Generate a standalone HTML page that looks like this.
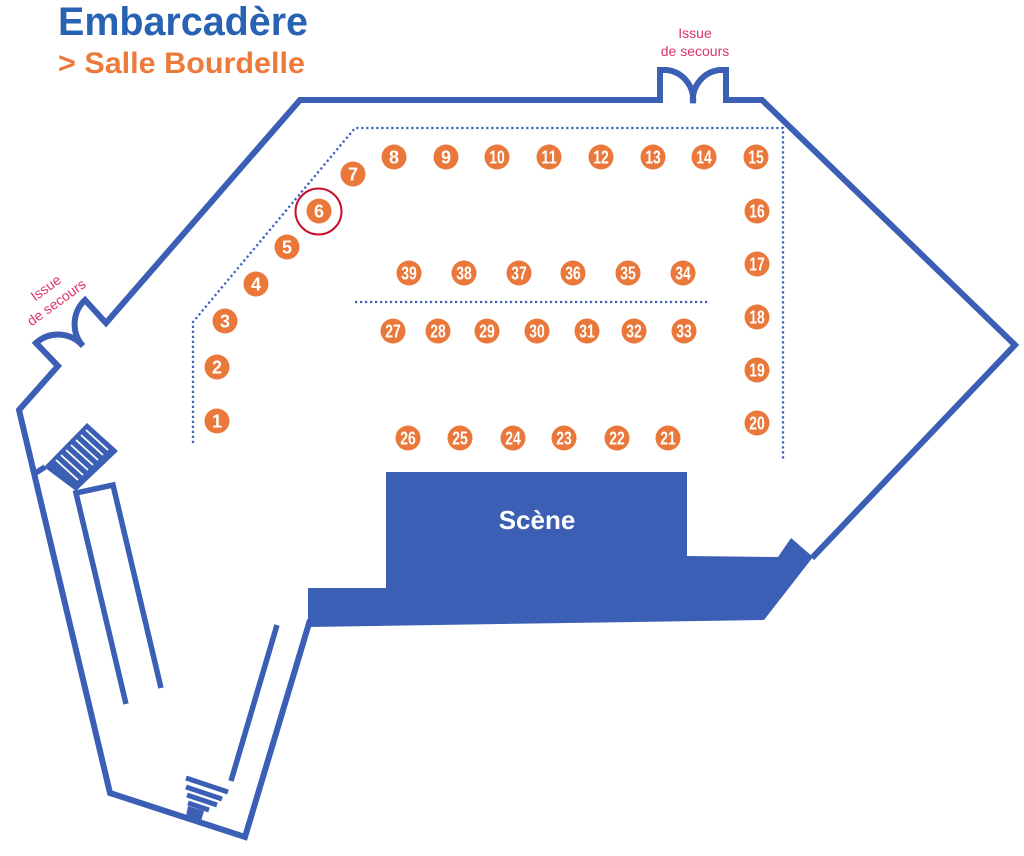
<!DOCTYPE html>
<html>
<head>
<meta charset="utf-8">
<style>
  html,body{margin:0;padding:0;background:#fff;}
  svg{display:block;}
  .seat circle{fill:#e9783a;}
  .seat text{fill:#fff;font-family:"Liberation Sans",sans-serif;font-weight:bold;font-size:18px;text-anchor:middle;}
</style>
</head>
<body>
<svg width="1024" height="856" viewBox="0 0 1024 856" xmlns="http://www.w3.org/2000/svg">
  <rect width="1024" height="856" fill="#fff"/>

  <!-- Title -->
  <text x="58" y="35" font-family="Liberation Sans, sans-serif" font-weight="bold" font-size="40" fill="#2862b3" textLength="250" lengthAdjust="spacingAndGlyphs">Embarcadère</text>
  <text x="58" y="73" font-family="Liberation Sans, sans-serif" font-weight="bold" font-size="30" fill="#ec7b3b" textLength="247" lengthAdjust="spacingAndGlyphs">&gt; Salle Bourdelle</text>

  <!-- Emergency exit labels -->
  <g font-family="Liberation Sans, sans-serif" font-size="14" fill="#dc356b" text-anchor="middle">
    <text x="695" y="38">Issue</text>
    <text x="695" y="56">de secours</text>
    <g transform="translate(51,295) rotate(-36)">
      <text x="0" y="-4">Issue</text>
      <text x="0" y="14">de secours</text>
    </g>
  </g>

  <!-- Walls -->
  <g fill="none" stroke="#3a5fb4" stroke-width="6" stroke-linejoin="miter">
    <path d="M 812,558 L 1015,345 L 762,100 H 726 V 70 H 720 A30,30 0 0 0 693,103 A30,30 0 0 0 667,70 H 660 V 100 H 300 L 106,323 L 85,300 A33,33 0 0 0 83,346 A33,33 0 0 0 36,343 L 58,366 L 19,410 L 110,793 L 245,837 L 310,620"/>
  </g>
  <g fill="none" stroke="#3a5fb4" stroke-width="5.5">
    <path d="M 126,704 L 76,493 L 113,485 L 161,688"/>
    <path d="M 45,467 L 34,474"/>
    <path d="M 277,625 L 231,781"/>
  </g>

  <!-- Stair block (upper left) -->
  <polygon points="87,423 118,451 76,491 44,467" fill="#3a5fb4"/>
  <g stroke="#fff" stroke-width="1.8">
    <line x1="86" y1="430" x2="108" y2="450"/>
    <line x1="81" y1="435" x2="103" y2="455"/>
    <line x1="76" y1="440" x2="98" y2="460"/>
    <line x1="71" y1="445" x2="93" y2="465"/>
    <line x1="66" y1="450" x2="88" y2="470"/>
    <line x1="61" y1="455" x2="83" y2="475"/>
    <line x1="56" y1="460" x2="78" y2="480"/>
  </g>

  <!-- Stair bars (bottom) -->
  <g stroke="#3a5fb4" stroke-width="5">
    <line x1="186" y1="778" x2="228" y2="792"/>
    <line x1="186" y1="787" x2="222" y2="799"/>
    <line x1="187" y1="795" x2="217" y2="805"/>
    <line x1="188" y1="803" x2="209" y2="810"/>
  </g>
  <polygon points="188,806 204,811 201,821 186,816" fill="#3a5fb4"/>

  <!-- Stage -->
  <polygon points="308,588 386,588 386,472 687,472 687,556 778,557 791,538 813,557 764,620 308,627" fill="#3a5fb4"/>
  <text x="537" y="529" font-family="Liberation Sans, sans-serif" font-weight="bold" font-size="26" fill="#fff" text-anchor="middle">Scène</text>

  <!-- Dotted lines -->
  <g fill="none" stroke="#3a62b6" stroke-width="2.3" stroke-dasharray="2.2 2.8">
    <path d="M 193,443 V 322 L 355,128 H 783 V 459"/>
    <path d="M 355,302 H 710"/>
  </g>

  <!-- Highlight circle around seat 6 -->
  <circle cx="318.5" cy="211.5" r="23" fill="none" stroke="#c8102e" stroke-width="2"/>

  <!-- Seats -->
  <g class="seat">
    <circle cx="217" cy="421" r="12.5"/><text x="217" y="427.5">1</text>
    <circle cx="217" cy="367" r="12.5"/><text x="217" y="373.5">2</text>
    <circle cx="225" cy="321" r="12.5"/><text x="225" y="327.5">3</text>
    <circle cx="256" cy="284" r="12.5"/><text x="256" y="290.5">4</text>
    <circle cx="287" cy="247" r="12.5"/><text x="287" y="253.5">5</text>
    <circle cx="319" cy="211" r="12.5"/><text x="319" y="217.5">6</text>
    <circle cx="353" cy="174" r="12.5"/><text x="353" y="180.5">7</text>
    <circle cx="394" cy="157" r="12.5"/><text x="394" y="163.5">8</text>
    <circle cx="446" cy="157" r="12.5"/><text x="446" y="163.5">9</text>
    <circle cx="497" cy="157" r="12.5"/><text x="497" y="163.5" textLength="15.5" lengthAdjust="spacingAndGlyphs">10</text>
    <circle cx="549" cy="157" r="12.5"/><text x="549" y="163.5" textLength="15.5" lengthAdjust="spacingAndGlyphs">11</text>
    <circle cx="601" cy="157" r="12.5"/><text x="601" y="163.5" textLength="15.5" lengthAdjust="spacingAndGlyphs">12</text>
    <circle cx="653" cy="157" r="12.5"/><text x="653" y="163.5" textLength="15.5" lengthAdjust="spacingAndGlyphs">13</text>
    <circle cx="704" cy="157" r="12.5"/><text x="704" y="163.5" textLength="15.5" lengthAdjust="spacingAndGlyphs">14</text>
    <circle cx="756" cy="157" r="12.5"/><text x="756" y="163.5" textLength="15.5" lengthAdjust="spacingAndGlyphs">15</text>
    <circle cx="757" cy="211" r="12.5"/><text x="757" y="217.5" textLength="15.5" lengthAdjust="spacingAndGlyphs">16</text>
    <circle cx="757" cy="264" r="12.5"/><text x="757" y="270.5" textLength="15.5" lengthAdjust="spacingAndGlyphs">17</text>
    <circle cx="757" cy="317" r="12.5"/><text x="757" y="323.5" textLength="15.5" lengthAdjust="spacingAndGlyphs">18</text>
    <circle cx="757" cy="370" r="12.5"/><text x="757" y="376.5" textLength="15.5" lengthAdjust="spacingAndGlyphs">19</text>
    <circle cx="757" cy="423" r="12.5"/><text x="757" y="429.5" textLength="15.5" lengthAdjust="spacingAndGlyphs">20</text>
    <circle cx="668" cy="438" r="12.5"/><text x="668" y="444.5" textLength="15.5" lengthAdjust="spacingAndGlyphs">21</text>
    <circle cx="617" cy="438" r="12.5"/><text x="617" y="444.5" textLength="15.5" lengthAdjust="spacingAndGlyphs">22</text>
    <circle cx="564" cy="438" r="12.5"/><text x="564" y="444.5" textLength="15.5" lengthAdjust="spacingAndGlyphs">23</text>
    <circle cx="513" cy="438" r="12.5"/><text x="513" y="444.5" textLength="15.5" lengthAdjust="spacingAndGlyphs">24</text>
    <circle cx="460" cy="438" r="12.5"/><text x="460" y="444.5" textLength="15.5" lengthAdjust="spacingAndGlyphs">25</text>
    <circle cx="408" cy="438" r="12.5"/><text x="408" y="444.5" textLength="15.5" lengthAdjust="spacingAndGlyphs">26</text>
    <circle cx="393" cy="331" r="12.5"/><text x="393" y="337.5" textLength="15.5" lengthAdjust="spacingAndGlyphs">27</text>
    <circle cx="438" cy="331" r="12.5"/><text x="438" y="337.5" textLength="15.5" lengthAdjust="spacingAndGlyphs">28</text>
    <circle cx="487" cy="331" r="12.5"/><text x="487" y="337.5" textLength="15.5" lengthAdjust="spacingAndGlyphs">29</text>
    <circle cx="537" cy="331" r="12.5"/><text x="537" y="337.5" textLength="15.5" lengthAdjust="spacingAndGlyphs">30</text>
    <circle cx="587" cy="331" r="12.5"/><text x="587" y="337.5" textLength="15.5" lengthAdjust="spacingAndGlyphs">31</text>
    <circle cx="634" cy="331" r="12.5"/><text x="634" y="337.5" textLength="15.5" lengthAdjust="spacingAndGlyphs">32</text>
    <circle cx="684" cy="331" r="12.5"/><text x="684" y="337.5" textLength="15.5" lengthAdjust="spacingAndGlyphs">33</text>
    <circle cx="683" cy="273" r="12.5"/><text x="683" y="279.5" textLength="15.5" lengthAdjust="spacingAndGlyphs">34</text>
    <circle cx="628" cy="273" r="12.5"/><text x="628" y="279.5" textLength="15.5" lengthAdjust="spacingAndGlyphs">35</text>
    <circle cx="573" cy="273" r="12.5"/><text x="573" y="279.5" textLength="15.5" lengthAdjust="spacingAndGlyphs">36</text>
    <circle cx="519" cy="273" r="12.5"/><text x="519" y="279.5" textLength="15.5" lengthAdjust="spacingAndGlyphs">37</text>
    <circle cx="464" cy="273" r="12.5"/><text x="464" y="279.5" textLength="15.5" lengthAdjust="spacingAndGlyphs">38</text>
    <circle cx="409" cy="273" r="12.5"/><text x="409" y="279.5" textLength="15.5" lengthAdjust="spacingAndGlyphs">39</text>
  </g>
</svg>
</body>
</html>
